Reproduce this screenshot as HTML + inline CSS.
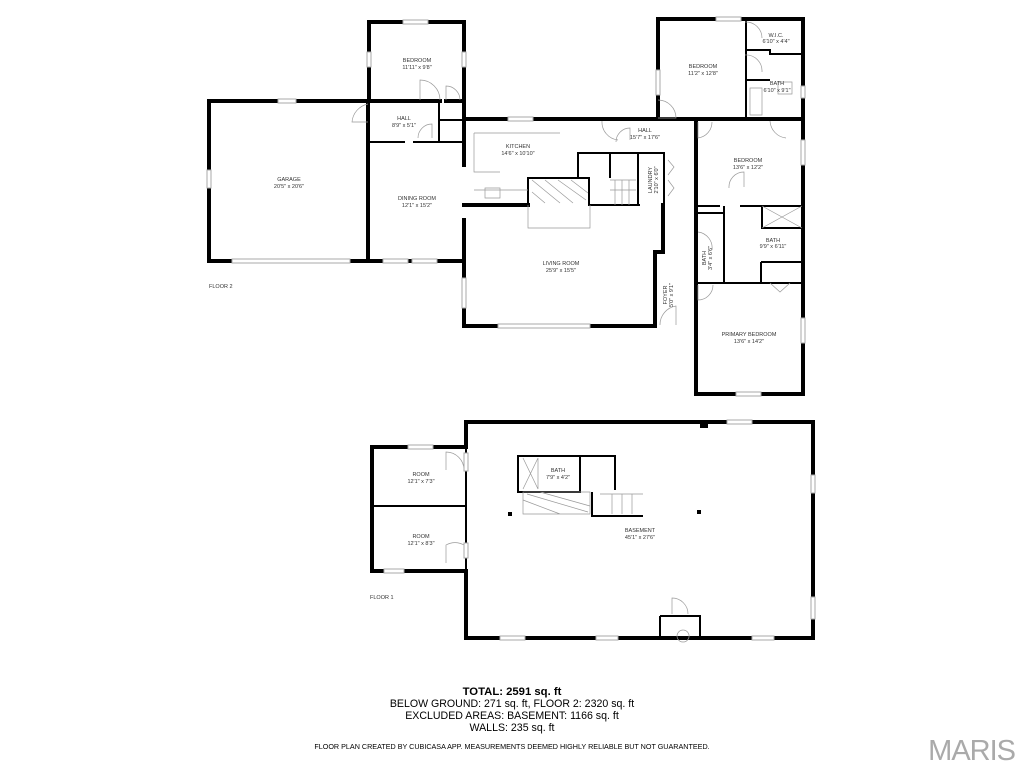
<!DOCTYPE html>
<html><head><style>
html,body{margin:0;padding:0;background:#fff;width:1024px;height:768px;overflow:hidden}
svg{display:block}
text{font-family:"Liberation Sans",sans-serif;fill:#333}
.l{font-size:5.5px;text-anchor:middle}
.w{stroke:#000;stroke-width:4;fill:none;stroke-linecap:square}
.t{stroke:#000;stroke-width:2;fill:none}
.f{stroke:#999;stroke-width:0.7;fill:none}
.win{stroke:#aaa;stroke-width:1;fill:#fff}
</style></head><body>
<svg width="1024" height="768" viewBox="0 0 1024 768" xmlns="http://www.w3.org/2000/svg">
<!-- FLOOR 2 -->
<path class="w" d="M209 101 H368 V261 H209 Z"/>
<path class="w" d="M369 101 V22 H464 V119"/>
<path class="w" d="M369 101 H440 M446 101 H464"/>
<path class="t" d="M369 142 H405 M413 142 H464"/>
<path class="t" d="M439 101 V142 M439 120 H464"/>
<path class="w" d="M368 142 V261 H464"/>
<path class="w" d="M464 119 V165 M464 220 V326 H655 V252 H663 V205"/>
<path class="w" d="M464 119 H602"/>
<path class="w" d="M464 205 H528"/>
<path class="t" d="M528 205 V178 H589 V205 H640"/>
<path class="t" d="M578 178 V153 H638 V205 M610 153 V178 M638 153 H664 V205"/>
<path class="f" d="M532 180 L560 203 M545 180 L573 203 M558 180 L586 200 M532 192 L545 203 M571 180 L588 193"/>
<path class="f" d="M528 205 V228 H590 V205"/>
<path class="f" d="M474 133 H560 M474 133 V172 H500 M474 190 H528 M485 188 H500 V198 H485 Z"/>
<path class="f" d="M610 180 H636 M615 180 V205 M622 180 V205 M629 180 V205 M610 190 H636"/>
<path class="w" d="M658 119 V19 H803 V394 H696 V119"/>
<path class="w" d="M602 119 H803"/>
<path class="t" d="M746 19 V119 M746 50 H770 V54 H803 M746 80 H770"/>
<path class="t" d="M696 206 H720 M740 206 H803 M724 206 V283 M696 213 H724 M696 283 H803 M761 262 H803 M761 262 V283 M762 206 V228 H803"/>
<path class="f" d="M762 206 L802 228 M802 206 L762 228 M750 88 H762 V115 H750 Z M778 82 H792 V94 H778 Z"/>
<path class="f" d="M420 100 V80 A20 20 0 0 1 440 100 M446 100 V86 A14 14 0 0 1 460 100 M432 138 V124 A14 14 0 0 0 418 138 M368 104 A20 20 0 0 0 352 122 H368 M602 121 A18 18 0 0 0 618 140 M630 140 V128 A14 14 0 0 0 616 142 M658 100 A18 18 0 0 1 676 118 H658 M698 122 V138 A16 16 0 0 0 712 122 M770 121 A18 18 0 0 0 786 138 M745 22 A16 16 0 0 1 762 38 M745 55 A16 16 0 0 1 762 72 M744 187 V172 A15 15 0 0 0 729 188 M698 285 V300 A15 15 0 0 0 713 285 M676 325 V306 A19 19 0 0 0 660 325 M698 232 A16 16 0 0 1 712 250 M770 283 L780 292 L790 283 M668 160 L674 167 L668 175 M668 180 L674 188 L668 196"/>
<g class="win">
<rect x="278" y="99" width="18" height="4"/><rect x="207" y="170" width="4" height="18"/><rect x="232" y="259" width="118" height="4"/>
<rect x="403" y="20" width="25" height="4"/><rect x="367" y="52" width="4" height="15"/><rect x="462" y="52" width="4" height="15"/>
<rect x="383" y="259" width="25" height="4"/><rect x="412" y="259" width="25" height="4"/>
<rect x="462" y="278" width="4" height="30"/><rect x="498" y="324" width="92" height="4"/><rect x="508" y="117" width="25" height="4"/>
<rect x="716" y="17" width="25" height="4"/><rect x="656" y="70" width="4" height="25"/><rect x="801" y="140" width="4" height="25"/>
<rect x="801" y="318" width="4" height="25"/><rect x="736" y="392" width="25" height="4"/><rect x="801" y="86" width="4" height="12"/>
</g>
<text class="l" x="417" y="62">BEDROOM</text><text class="l" x="417" y="69">11'11" x 9'8"</text>
<text class="l" x="404" y="120">HALL</text><text class="l" x="404" y="127">8'9" x 5'1"</text>
<text class="l" x="289" y="181">GARAGE</text><text class="l" x="289" y="188">20'5" x 20'6"</text>
<text class="l" x="417" y="200">DINING ROOM</text><text class="l" x="417" y="207">12'1" x 15'2"</text>
<text class="l" x="518" y="148">KITCHEN</text><text class="l" x="518" y="155">14'6" x 10'10"</text>
<text class="l" x="561" y="265">LIVING ROOM</text><text class="l" x="561" y="272">25'9" x 15'5"</text>
<text class="l" x="645" y="132">HALL</text><text class="l" x="645" y="139">15'7" x 17'6"</text>
<text class="l" x="703" y="68">BEDROOM</text><text class="l" x="703" y="75">11'2" x 12'8"</text>
<text class="l" x="776" y="37">W.I.C.</text><text class="l" x="776" y="43">6'10" x 4'4"</text>
<text class="l" x="777" y="85">BATH</text><text class="l" x="777" y="92">6'10" x 9'1"</text>
<text class="l" x="748" y="162">BEDROOM</text><text class="l" x="748" y="169">13'6" x 12'2"</text>
<text class="l" x="773" y="242">BATH</text><text class="l" x="773" y="248">9'9" x 6'11"</text>
<text class="l" x="749" y="336">PRIMARY BEDROOM</text><text class="l" x="749" y="343">13'6" x 14'2"</text>
<text class="l" transform="translate(652,180) rotate(-90)">LAUNDRY</text><text class="l" transform="translate(658,180) rotate(-90)">2'10" x 6'0"</text>
<text class="l" transform="translate(706,258) rotate(-90)">BATH</text><text class="l" transform="translate(712,258) rotate(-90)">3'4" x 6'6"</text>
<text class="l" transform="translate(667,295) rotate(-90)">FOYER</text><text class="l" transform="translate(673,295) rotate(-90)">5'0" x 9'1"</text>
<text x="209" y="288" style="font-size:5.5px">FLOOR 2</text>

<!-- FLOOR 1 -->
<path class="w" d="M466 422 H813 V638 H466 V571 H372 V447 H466 Z"/>
<path class="t" d="M466 447 V571 M372 506 H466"/>
<path class="t" d="M518 456 H580 V492 H518 Z M580 456 H615 V490 M592 492 V516 H643"/>
<path class="f" d="M523 492 H590 V514 H523 Z M527 494 L588 512 M540 492 L590 506 M523 500 L560 514 M523 458 L538 489 M538 458 L523 489 M538 458 V489 M600 494 H643 M612 494 V514 M622 494 V514 M632 494 V514"/>
<path class="t" d="M660 616 V638 M660 616 H700 V638"/>
<path class="f" d="M672 614 V598 A16 16 0 0 1 688 614 M446 470 V452 A18 18 0 0 1 464 470 M446 563 V545 A18 18 0 0 1 464 545 M683 630 A6 6 0 1 0 683.1 630"/>
<rect x="508" y="512" width="4" height="4"/><rect x="697" y="510" width="4" height="4"/><rect x="700" y="422" width="8" height="6"/>
<g class="win">
<rect x="408" y="445" width="25" height="4"/><rect x="384" y="569" width="20" height="4"/><rect x="464" y="453" width="4" height="18"/><rect x="464" y="543" width="4" height="15"/>
<rect x="727" y="420" width="25" height="4"/><rect x="811" y="475" width="4" height="18"/><rect x="811" y="597" width="4" height="22"/>
<rect x="500" y="636" width="25" height="4"/><rect x="596" y="636" width="22" height="4"/><rect x="752" y="636" width="22" height="4"/>
</g>
<text class="l" x="421" y="476">ROOM</text><text class="l" x="421" y="483">12'1" x 7'3"</text>
<text class="l" x="421" y="538">ROOM</text><text class="l" x="421" y="545">12'1" x 8'3"</text>
<text class="l" x="558" y="472">BATH</text><text class="l" x="558" y="479">7'9" x 4'2"</text>
<text class="l" x="640" y="532">BASEMENT</text><text class="l" x="640" y="539">45'1" x 27'6"</text>
<text x="370" y="599" style="font-size:5.5px">FLOOR 1</text>

<text x="512" y="695" text-anchor="middle" style="font-size:11.3px;font-weight:bold;fill:#000">TOTAL: 2591 sq. ft</text>
<text x="512" y="707" text-anchor="middle" style="font-size:10.6px;fill:#000">BELOW GROUND: 271 sq. ft, FLOOR 2: 2320 sq. ft</text>
<text x="512" y="719" text-anchor="middle" style="font-size:10.6px;fill:#000">EXCLUDED AREAS: BASEMENT: 1166 sq. ft</text>
<text x="512" y="731" text-anchor="middle" style="font-size:10.6px;fill:#000">WALLS: 235 sq. ft</text>
<text x="512" y="749" text-anchor="middle" style="font-size:7.2px;fill:#000">FLOOR PLAN CREATED BY CUBICASA APP. MEASUREMENTS DEEMED HIGHLY RELIABLE BUT NOT GUARANTEED.</text>
<text x="1015" y="760" text-anchor="end" style="font-size:29px;fill:#aaa;letter-spacing:-1px">MARIS</text>
</svg>
</body></html>
